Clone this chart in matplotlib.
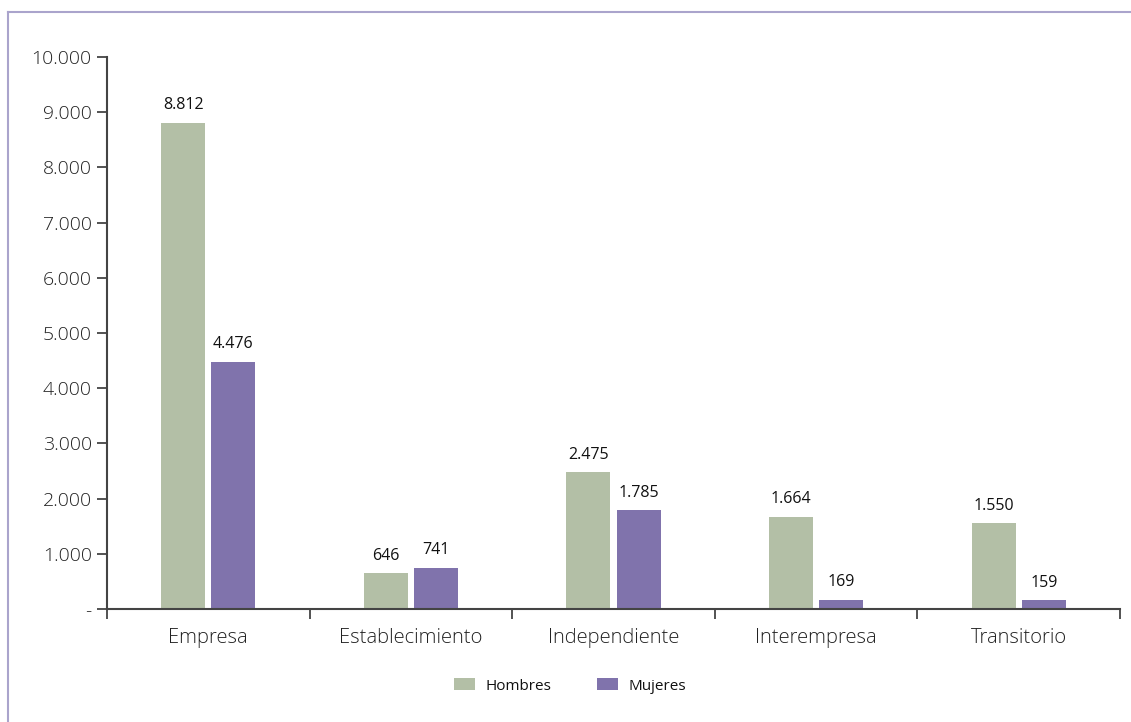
import matplotlib
matplotlib.use("Agg")
import matplotlib.pyplot as plt
from matplotlib.lines import Line2D
import numpy as np

plt.rcParams["font.family"] = ["Open Sans", "DejaVu Sans"]

categories = ["Empresa", "Establecimiento", "Independiente", "Interempresa", "Transitorio"]
hombres = [8812, 646, 2475, 1664, 1550]
mujeres = [4476, 741, 1785, 169, 159]
yticks = [0, 1000, 2000, 3000, 4000, 5000, 6000, 7000, 8000, 9000, 10000]


def fmt(v):
    return "-" if v == 0 else f"{v:,}".replace(",", ".")


C_H = "#b3bfa6"
C_M = "#8073ac"

fig = plt.figure(figsize=(11.31, 7.22), dpi=100)
ax = fig.add_axes([107 / 1131, 1 - 609 / 722, (1120 - 107) / 1131, (609 - 57) / 722])

x = np.arange(len(categories))
w = 0.217
off = 0.124
bh = ax.bar(x - off, hombres, width=w, color=C_H, label="Hombres")
bm = ax.bar(x + off, mujeres, width=w, color=C_M, label="Mujeres")

for bars, vals in [(bh, hombres), (bm, mujeres)]:
    for b, v in zip(bars, vals):
        ax.annotate(fmt(v), (b.get_x() + b.get_width() / 2, v),
                    xytext=(0, 7), textcoords="offset points",
                    ha="center", va="bottom", fontsize=11.5, color="#111111")

ax.set_xlim(-0.5, len(categories) - 0.5)
ax.set_ylim(0, 10000)
ax.set_yticks(yticks)
ax.set_yticklabels([fmt(v) for v in yticks], fontsize=14, color="#222222",
                   fontweight="light")

# category labels centred, ticks at boundaries
ax.set_xticks(np.arange(len(categories) + 1) - 0.5)
ax.set_xticklabels([])
ax.set_xticks(x, minor=True)
ax.set_xticklabels(categories, minor=True, fontsize=14.5, color="#222222",
                   fontweight="light")
ax.tick_params(axis="x", which="major", length=7, width=1.3, color="#444444",
               direction="out")
ax.tick_params(axis="x", which="minor", length=0, pad=14)
ax.tick_params(axis="y", length=7, width=1.3, color="#444444", pad=4)

for s in ["top", "right"]:
    ax.spines[s].set_visible(False)
for s in ["left", "bottom"]:
    ax.spines[s].set_color("#444444")
    ax.spines[s].set_linewidth(1.5)

leg = fig.legend(handles=[bh, bm], labels=["Hombres", "Mujeres"],
                 loc="center", bbox_to_anchor=(570 / 1131, 1 - 686 / 722),
                 ncol=2, frameon=False, fontsize=11, handlelength=1.4,
                 handleheight=0.85, columnspacing=3.0, handletextpad=0.65)
for t in leg.get_texts():
    t.set_color("#111111")

# outer frame lines
frame_c = "#aaa4cc"
fig.add_artist(Line2D([8 / 1131, 1], [1 - 12 / 722, 1 - 12 / 722],
                      transform=fig.transFigure, color=frame_c, lw=1.5))
fig.add_artist(Line2D([8 / 1131, 8 / 1131], [0, 1 - 12 / 722],
                      transform=fig.transFigure, color=frame_c, lw=1.5))

fig.savefig("out.png", dpi=100)
